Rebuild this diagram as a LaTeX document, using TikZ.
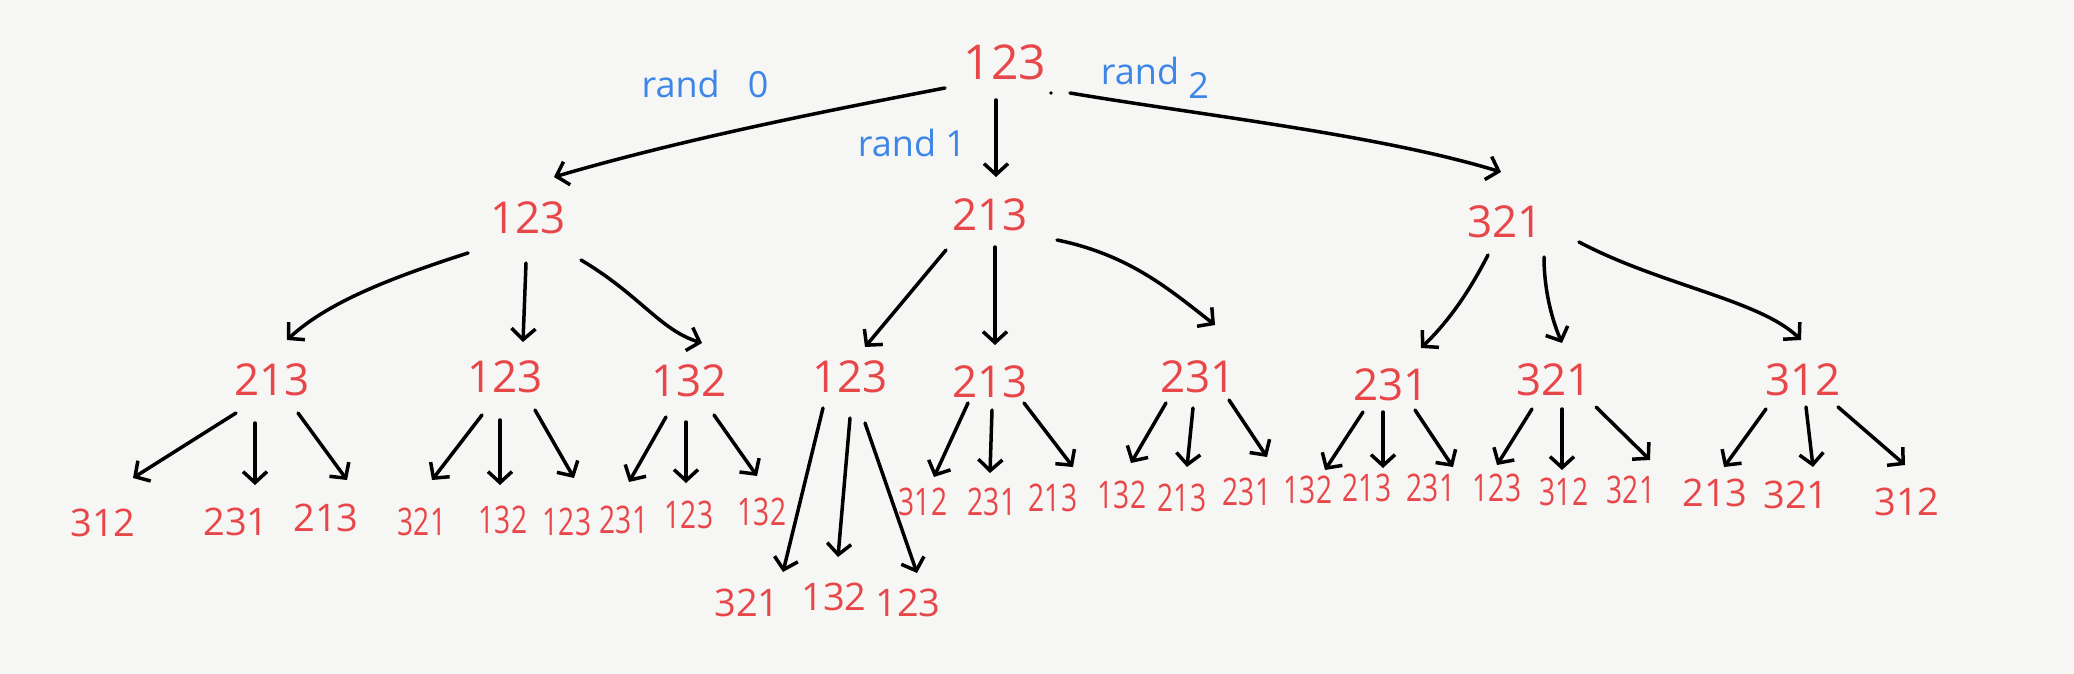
\documentclass[tikz,border=0pt]{standalone}
\usepackage{fontspec}
\setmainfont{Open Sans}
\newfontfamily\narrowfont[FakeStretch=0.74]{Open Sans}
\usetikzlibrary{arrows.meta}
\definecolor{hred}{HTML}{E8474A}
\definecolor{hblue}{HTML}{3D86E8}
\definecolor{paper}{HTML}{F6F6F5}
\begin{document}
\begin{tikzpicture}[x=1pt,y=-1pt,
  num/.style={text=hred, inner sep=0pt, font=\fontsize{38}{46}\selectfont},
  tight/.style={text=hred, inner sep=0pt, font=\narrowfont\fontsize{38}{46}\selectfont},
  mid/.style={text=hred, inner sep=0pt, font=\fontsize{44}{52}\selectfont},
  big/.style={text=hred, inner sep=0pt, font=\fontsize{48}{56}\selectfont},
  lbl/.style={text=hblue, inner sep=0pt, font=\fontsize{36}{44}\selectfont},
  arr/.style={draw=black, line width=3.5pt, line cap=round, line join=round,
    -{Straight Barb[length=11pt,width=24pt,line width=3.5pt]}},
]
\fill[paper] (0,0) rectangle (2074,674);
\useasboundingbox (0,0) rectangle (2074,674);

% root and labels
\node[big] (r) at (1005,62) {123};
\fill (1051,93) circle (1.8pt);
\node[lbl] (rand0) at (705,84) {rand\hspace{28pt}0};
\node[lbl] (rand1) at (912,143) {rand 1};
\node[lbl] (rand2) at (1155,78) {rand \raisebox{-14pt}{2}};

% level 1
\node[mid] (A) at (528,218) {123};
\node[mid] (B) at (990,215) {213};
\node[mid] (C) at (1505,222) {321};

% level 2
\node[mid] (a1) at (272,380) {213};
\node[mid] (a2) at (505,377) {123};
\node[mid] (a3) at (689,381) {132};
\node[mid] (b1) at (850,377) {123};
\node[mid] (b2) at (990,382) {213};
\node[mid] (b3) at (1198,377) {231};
\node[mid] (c1) at (1391,385) {231};
\node[mid] (c2) at (1554,380) {321};
\node[mid] (c3) at (1803,380) {312};

% level 3
\node[num] (a1a) at (103,523) {312};
\node[num] (a1b) at (236,522) {231};
\node[num] (a1c) at (326,518) {213};
\node[tight] (a2a) at (422,522) {321};
\node[tight] (a2b) at (503,520) {132};
\node[tight] (a2c) at (567,522) {123};
\node[tight] (a3a) at (624,520) {231};
\node[tight] (a3b) at (689,515) {123};
\node[tight] (a3c) at (762,512) {132};
\node[num] (b1a) at (747,603) {321};
\node[num] (b1b) at (834,597) {132};
\node[num] (b1c) at (908,603) {123};
\node[tight] (b2a) at (923,502) {312};
\node[tight] (b2b) at (992,502) {231};
\node[tight] (b2c) at (1053,498) {213};
\node[tight] (b3a) at (1122,495) {132};
\node[tight] (b3b) at (1182,498) {213};
\node[tight] (b3c) at (1247,492) {231};
\node[tight] (c1a) at (1308,490) {132};
\node[tight] (c1b) at (1367,488) {213};
\node[tight] (c1c) at (1431,488) {231};
\node[tight] (c2a) at (1497,488) {123};
\node[tight] (c2b) at (1564,492) {312};
\node[tight] (c2c) at (1631,490) {321};
\node[num] (c3a) at (1715,493) {213};
\node[num] (c3b) at (1796,495) {321};
\node[num] (c3c) at (1907,502) {312};

% root arrows
\draw[arr] ([shift={(-60,26)}]r.center) .. controls (820,112) and (680,140) .. ([shift={(26,-41)}]A.center);
\draw[arr] ([shift={(-9,38)}]r.center) -- ([shift={(6,-38)}]B.center);
\draw[arr] ([shift={(65,31)}]r.center) .. controls (1200,115) and (1380,135) .. ([shift={(-4,-50)}]C.center);

% level 1 arrows
\draw[arr] ([shift={(-60,35)}]A.center) .. controls (400,275) and (330,300) .. ([shift={(15,-40)}]a1.center);
\draw[arr] ([shift={(-2,45)}]A.center) -- ([shift={(18,-35)}]a2.center);
\draw[arr] ([shift={(53,42)}]A.center) .. controls (640,295) and (660,330) .. ([shift={(13,-38)}]a3.center);
\draw[arr] ([shift={(-44,35)}]B.center) -- ([shift={(15,-30)}]b1.center);
\draw[arr] ([shift={(5,32)}]B.center) -- ([shift={(5,-37)}]b2.center);
\draw[arr] ([shift={(67,25)}]B.center) .. controls (1130,255) and (1170,290) .. ([shift={(17,-52)}]b3.center);
\draw[arr] ([shift={(-17,33)}]C.center) .. controls (1470,290) and (1450,320) .. ([shift={(30,-37)}]c1.center);
\draw[arr] ([shift={(39,35)}]C.center) .. controls (1544,290) and (1552,320) .. ([shift={(8,-37)}]c2.center);
\draw[arr] ([shift={(74,20)}]C.center) .. controls (1660,285) and (1760,300) .. ([shift={(-2,-40)}]c3.center);

% level 2 arrows
\draw[arr] ([shift={(-36,33)}]a1.center) -- ([shift={(30,-45)}]a1a.center);
\draw[arr] ([shift={(-17,43)}]a1.center) -- ([shift={(19,-37)}]a1b.center);
\draw[arr] ([shift={(26,33)}]a1.center) -- ([shift={(21,-38)}]a1c.center);
\draw[arr] ([shift={(-23,38)}]a2.center) -- ([shift={(10,-42)}]a2a.center);
\draw[arr] ([shift={(-5,43)}]a2.center) -- ([shift={(-3,-35)}]a2b.center);
\draw[arr] ([shift={(30,33)}]a2.center) -- ([shift={(7,-44)}]a2c.center);
\draw[arr] ([shift={(-23,36)}]a3.center) -- ([shift={(5,-38)}]a3a.center);
\draw[arr] ([shift={(-3,41)}]a3.center) -- ([shift={(-3,-32)}]a3b.center);
\draw[arr] ([shift={(25,34)}]a3.center) -- ([shift={(-5,-36)}]a3c.center);
\draw[arr] ([shift={(-27,31)}]b1.center) -- ([shift={(36,-31)}]b1a.center);
\draw[arr] ([shift={(0,41)}]b1.center) -- ([shift={(4,-40)}]b1b.center);
\draw[arr] ([shift={(15,46)}]b1.center) -- ([shift={(9,-30)}]b1c.center);
\draw[arr] ([shift={(-22,21)}]b2.center) -- ([shift={(11,-25)}]b2a.center);
\draw[arr] ([shift={(2,28)}]b2.center) -- ([shift={(-2,-29)}]b2b.center);
\draw[arr] ([shift={(34,21)}]b2.center) -- ([shift={(20,-31)}]b2c.center);
\draw[arr] ([shift={(-32,26)}]b3.center) -- ([shift={(9,-32)}]b3a.center);
\draw[arr] ([shift={(-5,31)}]b3.center) -- ([shift={(5,-31)}]b3b.center);
\draw[arr] ([shift={(31,23)}]b3.center) -- ([shift={(20,-35)}]b3c.center);
\draw[arr] ([shift={(-28,27)}]c1.center) -- ([shift={(17,-20)}]c1a.center);
\draw[arr] ([shift={(-8,27)}]c1.center) -- ([shift={(16,-20)}]c1b.center);
\draw[arr] ([shift={(24,25)}]c1.center) -- ([shift={(22,-21)}]c1c.center);
\draw[arr] ([shift={(-22,29)}]c2.center) -- ([shift={(0,-23)}]c2a.center);
\draw[arr] ([shift={(8,29)}]c2.center) -- ([shift={(-2,-22)}]c2b.center);
\draw[arr] ([shift={(42,27)}]c2.center) -- ([shift={(19,-30)}]c2c.center);
\draw[arr] ([shift={(-37,29)}]c3.center) -- ([shift={(9,-26)}]c3a.center);
\draw[arr] ([shift={(3,27)}]c3.center) -- ([shift={(17,-28)}]c3b.center);
\draw[arr] ([shift={(35,27)}]c3.center) -- ([shift={(-2,-37)}]c3c.center);
\end{tikzpicture}
\end{document}
